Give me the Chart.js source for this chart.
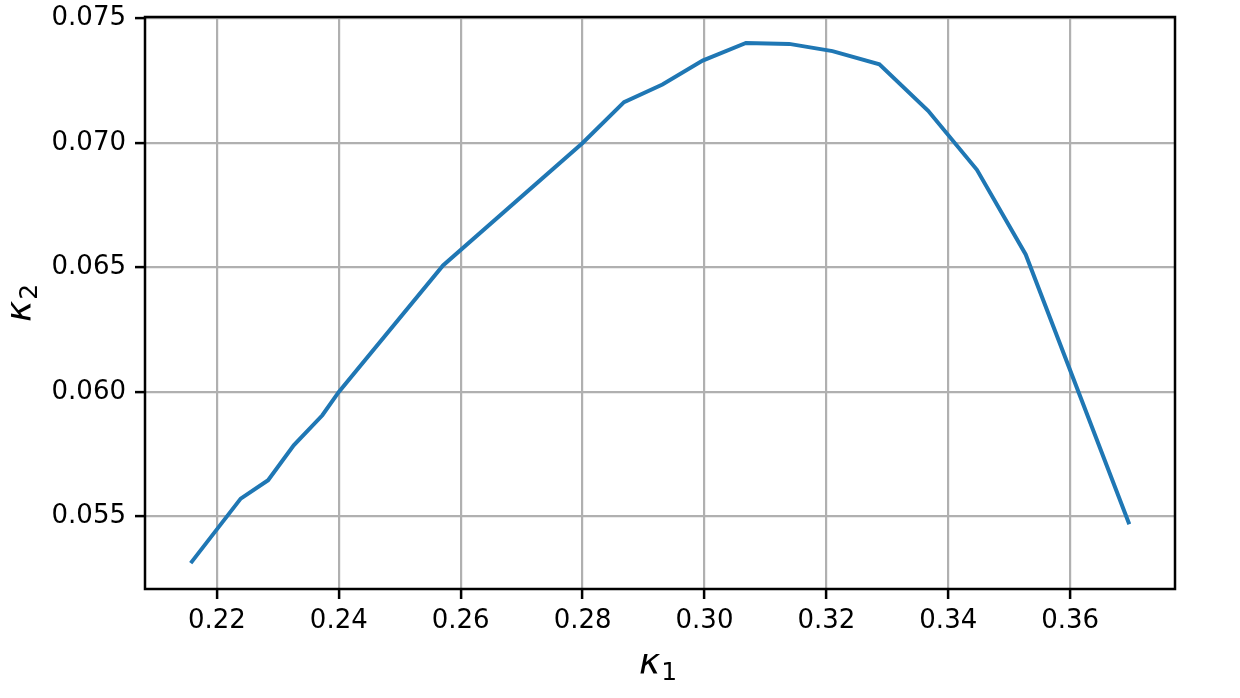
<!DOCTYPE html>
<html lang="en">
<head>
    <meta charset="UTF-8">
    <script src="https://cdn.jsdelivr.net/npm/chart.js"></script>
    <title>kappa curve</title>
    <style>
    body {
        margin: 0;
        background-color: white;
    }
    #kappaChart {
        display: block;
    }
</style>
</head>
<body>
    <canvas id="kappaChart" width="1240" height="698"></canvas>

    <script>
        // Values
        const kappa1 = [0.2157, 0.2239, 0.2284, 0.2326, 0.2373, 0.2400, 0.2571, 0.2800, 0.2868, 0.2931,
                        0.2997, 0.3068, 0.3139, 0.3210, 0.3287, 0.3367, 0.3447, 0.3527, 0.3697];
        const kappa2 = [0.05312, 0.05571, 0.05645, 0.05785, 0.05906, 0.06000, 0.06508, 0.07000, 0.07164, 0.07235,
                        0.07331, 0.07402, 0.07398, 0.07369, 0.07316, 0.07129, 0.06892, 0.06552, 0.05468];
        const xTicks = [0.22, 0.24, 0.26, 0.28, 0.30, 0.32, 0.34, 0.36];
        const yTicks = [0.055, 0.060, 0.065, 0.070, 0.075];
        const xLabel = ['κ', '1'];
        const yLabel = ['κ', '2'];

        const fontFamily = "'DejaVu Sans', sans-serif";

        // Frame round the plot area
        const framePlugin = {
            id: 'frame',
            afterDraw(chart) {
                const {ctx, chartArea} = chart;
                ctx.save();
                ctx.strokeStyle = 'black';
                ctx.lineWidth = 2.5;
                ctx.strokeRect(chartArea.left, chartArea.top,
                    chartArea.right - chartArea.left, chartArea.bottom - chartArea.top);
                ctx.restore();
            }
        };

        // Axis labels written like matplotlib mathtext: italic kappa, upright subscript
        function drawSubLabel(ctx, parts) {
            ctx.font = "italic 36px " + fontFamily;
            ctx.fillText(parts[0], 0, 0);
            const w = ctx.measureText(parts[0]).width;
            ctx.font = "25px " + fontFamily;
            ctx.fillText(parts[1], w + 1, 6);
        }
        const axisLabelPlugin = {
            id: 'axisLabels',
            afterDraw(chart) {
                const {ctx, chartArea} = chart;
                ctx.save();
                ctx.fillStyle = 'black';
                ctx.textBaseline = 'alphabetic';
                ctx.textAlign = 'left';
                const cx = (chartArea.left + chartArea.right) / 2;
                ctx.save();
                ctx.translate(cx - 21, 674);
                drawSubLabel(ctx, xLabel);
                ctx.restore();
                const cy = (chartArea.top + chartArea.bottom) / 2;
                ctx.save();
                ctx.translate(31, cy + 19);
                ctx.rotate(-Math.PI / 2);
                drawSubLabel(ctx, yLabel);
                ctx.restore();
                ctx.restore();
            }
        };

        const points = kappa1.map((x, i) => ({x: x, y: kappa2[i]}));

        new Chart(document.getElementById('kappaChart'), {
            type: 'line',
            data: {
                datasets: [{
                    data: points,
                    borderColor: '#1f77b4',
                    borderWidth: 4,
                    pointRadius: 0,
                    tension: 0,
                    fill: false
                }]
            },
            options: {
                responsive: false,
                animation: false,
                devicePixelRatio: 1,
                layout: {
                    padding: {top: 17, right: 65, left: 0, bottom: 0}
                },
                plugins: {
                    legend: {display: false},
                    tooltip: {enabled: false}
                },
                scales: {
                    x: {
                        type: 'linear',
                        min: 0.2082,
                        max: 0.3772,
                        afterBuildTicks(scale) {
                            scale.ticks = xTicks.map(v => ({value: v}));
                        },
                        afterFit(scale) {
                            scale.height = 109;
                            scale.paddingLeft = 0;
                            scale.paddingRight = 0;
                        },
                        border: {display: false},
                        grid: {
                            color: '#b0b0b0',
                            lineWidth: 2.2,
                            tickColor: 'black',
                            tickWidth: 2.5,
                            tickLength: 10
                        },
                        ticks: {
                            color: 'black',
                            padding: 7,
                            font: {family: fontFamily, size: 26},
                            callback: v => v.toFixed(2)
                        }
                    },
                    y: {
                        type: 'linear',
                        min: 0.05208,
                        max: 0.07506,
                        afterBuildTicks(scale) {
                            scale.ticks = yTicks.map(v => ({value: v}));
                        },
                        afterFit(scale) {
                            scale.width = 145;
                            scale.paddingTop = 0;
                            scale.paddingBottom = 0;
                        },
                        border: {display: false},
                        grid: {
                            color: '#b0b0b0',
                            lineWidth: 2.2,
                            tickColor: 'black',
                            tickWidth: 2.5,
                            tickLength: 10
                        },
                        ticks: {
                            color: 'black',
                            padding: 9,
                            font: {family: fontFamily, size: 26},
                            callback: v => v.toFixed(3)
                        }
                    }
                }
            },
            plugins: [framePlugin, axisLabelPlugin]
        });
    </script>
</body>
</html>
